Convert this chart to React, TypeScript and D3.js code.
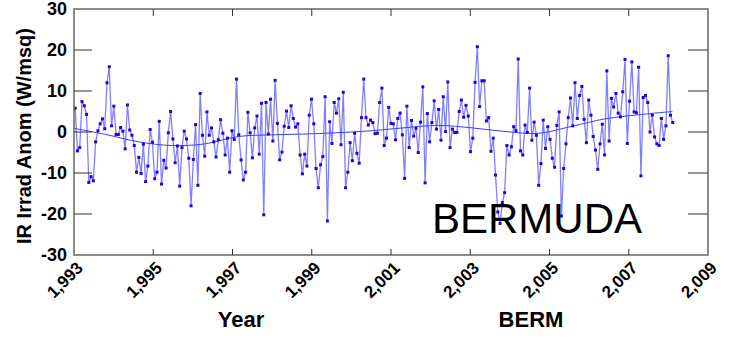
import * as d3 from 'd3';
import { FC } from 'react';

// irradiance anomaly samples, evenly spaced in time from FIRST_YEAR to LAST_YEAR
const FIRST_YEAR = 1993.03;
const LAST_YEAR = 2008.11;
const anomaly = [
  5.8, -4.6, -3.8, 7.4, 6.4, 4.3, -12.3, -10.9, -11.9, -2.4, 0.3, 2.0, 3.2, 0.8, 12.0, 15.9, 1.5, 6.3, -0.6, -0.6,
  1.1, 0.2, -4.1, 6.6, 0.5, -0.8, -3.3, -9.8, -6.2, -10.1, -3.0, -12.1, -8.3, 0.6, -2.5, -11.4, -9.8, 2.6, -12.7, -6.9,
  -8.8, -0.2, 5.0, -1.7, -7.5, -3.4, -13.2, -3.8, 0.2, -1.7, -6.4, -18.0, -6.7, 1.8, -13.0, 9.4, -0.8, -5.9, 4.9, -0.8,
  1.0, -2.4, -6.1, -1.9, 3.0, -0.3, -5.6, -1.5, -9.8, 0.3, -1.8, 12.9, -0.7, -6.8, -11.7, -9.8, 4.8, -0.2, -6.3, 1.0,
  3.9, -5.4, 7.0, -20.2, 7.2, -0.5, 8.0, -2.2, 12.6, 2.1, -6.8, -4.9, 1.4, 5.1, 1.1, 6.4, 3.3, 1.2, 2.0, -5.6,
  -10.2, -5.4, -8.3, 4.1, 8.0, 2.0, -8.9, -13.6, -8.0, -6.0, 8.6, -21.7, 2.5, -2.8, 7.2, 4.6, 8.1, -3.1, 9.7, -13.6,
  -9.8, -2.6, -7.0, -0.3, -5.2, -7.6, 3.5, 12.9, 3.5, 1.7, 2.9, 2.3, -0.4, -0.3, 7.2, 10.7, -3.3, -1.5, 6.0, 2.1,
  2.0, -1.9, 3.3, 4.6, -0.7, -11.3, 6.3, -3.8, 2.8, -1.0, 0.9, -5.0, 2.4, 11.0, -12.4, 4.5, -2.4, 2.3, 7.6, 0.7,
  5.5, -2.0, 8.6, 0.1, 12.2, -3.8, 0.7, -0.1, -0.1, 5.0, 7.8, 3.6, 6.5, 3.9, -4.8, -1.5, 12.1, 20.8, 6.2, 12.5,
  12.5, 2.7, 3.5, -4.7, -1.5, -10.5, -19.5, -22.3, -17.2, -14.8, -3.3, -5.6, -3.6, 1.3, 0.3, 17.8, -4.6, -5.6, 1.7, -0.1,
  10.7, -2.0, 2.4, -0.8, -13.0, -7.7, 2.9, -4.0, 1.3, -1.8, -6.4, -8.6, 1.6, 4.9, -20.5, -8.9, -2.9, 3.5, 8.3, 1.5,
  12.0, 3.3, 8.9, 11.1, 3.1, -2.6, 7.8, 4.1, -1.1, -4.4, -9.1, -2.9, 1.9, -5.6, 14.9, -2.2, 8.2, 6.1, 9.4, 4.6,
  3.7, 9.8, 17.7, -2.8, 7.5, 17.1, 4.9, 4.7, 15.8, -10.7, 8.4, 8.9, 7.2, 0.0, 4.1, -1.2, -2.9, -3.3, 3.3, -1.8,
  1.5, 18.6, 4.1, 2.3,
];

// smooth trend curve
const trendYears = [1993.0, 1993.8, 1994.63, 1995.47, 1996.3, 1997.15, 1997.95, 1998.8, 1999.6, 2000.5, 2001.3, 2002.2, 2003.05, 2003.9, 2004.73, 2005.57, 2006.4, 2007.25, 2008.1];
const trendValues = [0.9, -0.6, -2.4, -3.3, -2.9, -1.1, -0.7, -0.5, -0.2, 0.3, 1.0, 1.6, 1.0, 0.1, -0.3, 1.4, 3.2, 4.2, 5.0];

const xTicks = [1993, 1995, 1997, 1999, 2001, 2003, 2005, 2007, 2009];
const yTicks = [-30, -20, -10, 0, 10, 20, 30];

const W = 739;
const H = 339;
const margin = { top: 9, right: 31, bottom: 84, left: 74 };

const App: FC = () => {
  const innerW = W - margin.left - margin.right;
  const innerH = H - margin.top - margin.bottom;

  const x = d3.scaleLinear().domain([1993, 2009]).range([margin.left, margin.left + innerW]);
  const y = d3.scaleLinear().domain([-30, 30]).range([margin.top + innerH, margin.top]);
  const t = d3.scaleLinear().domain([0, anomaly.length - 1]).range([FIRST_YEAR, LAST_YEAR]);

  const pts: [number, number][] = anomaly.map((v, i) => [x(t(i)), y(v)]);
  const line = d3.line()(pts) ?? '';
  const trend =
    d3
      .line<number>()
      .x((d, i) => x(trendYears[i]))
      .y((d) => y(d))
      .curve(d3.curveCatmullRom)(trendValues) ?? '';

  const fmt = d3.format(',');
  const x0 = margin.left;
  const x1 = margin.left + innerW;
  const y0 = margin.top;
  const y1 = margin.top + innerH;

  return (
    <svg
      width={W}
      height={H}
      style={{ position: 'absolute', left: 0, top: 0, background: '#fff' }}
      fontFamily="'Liberation Sans', Arial, sans-serif"
    >
      {/* trend */}
      <path d={trend} fill="none" stroke="#3a3aff" strokeWidth={1} />
      {/* data */}
      <path d={line} fill="none" stroke="#4a4aff" strokeOpacity={0.7} strokeWidth={1.3} />
      {pts.map(([px, py], i) => (
        <rect key={i} x={px - 1.5} y={py - 1.5} width={3} height={3} fill="#2200e0" />
      ))}

      {/* frame */}
      <rect x={x0} y={y0} width={innerW} height={innerH} fill="none" stroke="#666" strokeWidth={1.5} />

      {/* y ticks both sides, pointing inward */}
      {yTicks.map((v) => (
        <g key={v}>
          {v > -30 && v < 30 && (
            <>
              <line x1={x0} x2={x0 + 18} y1={y(v)} y2={y(v)} stroke="#333" />
              <line x1={x1 - 20} x2={x1} y1={y(v)} y2={y(v)} stroke="#333" />
            </>
          )}
          <text x={x0 - 7} y={y(v)} dy="0.36em" textAnchor="end" fontSize={18} fontWeight="bold" fill="#000">
            {v}
          </text>
        </g>
      ))}

      {/* x ticks top and bottom */}
      {xTicks.map((v) => (
        <g key={v}>
          {v > 1993 && v < 2009 && (
            <>
              <line x1={x(v)} x2={x(v)} y1={y0} y2={y0 + 7} stroke="#333" />
              <line x1={x(v)} x2={x(v)} y1={y1 - 6} y2={y1} stroke="#333" />
            </>
          )}
          <text
            transform={`translate(${x(v) + 10},${y1 + 14}) rotate(-45)`}
            textAnchor="end"
            fontSize={17}
            fontWeight="bold"
            fill="#000"
          >
            {fmt(v)}
          </text>
        </g>
      ))}

      <text
        transform={`translate(31,${(y0 + y1) / 2 + 4}) rotate(-90)`}
        textAnchor="middle"
        fontSize={20}
        fontWeight="bold"
      >
        IR Irrad Anom (W/msq)
      </text>
      <text x={241} y={327} textAnchor="middle" fontSize={22} fontWeight="bold">
        Year
      </text>
      <text x={531} y={327} textAnchor="middle" fontSize={22} fontWeight="bold">
        BERM
      </text>
      <text x={432} y={233} fontSize={42}>
        BERMUDA
      </text>
    </svg>
  );
};

export default App;
